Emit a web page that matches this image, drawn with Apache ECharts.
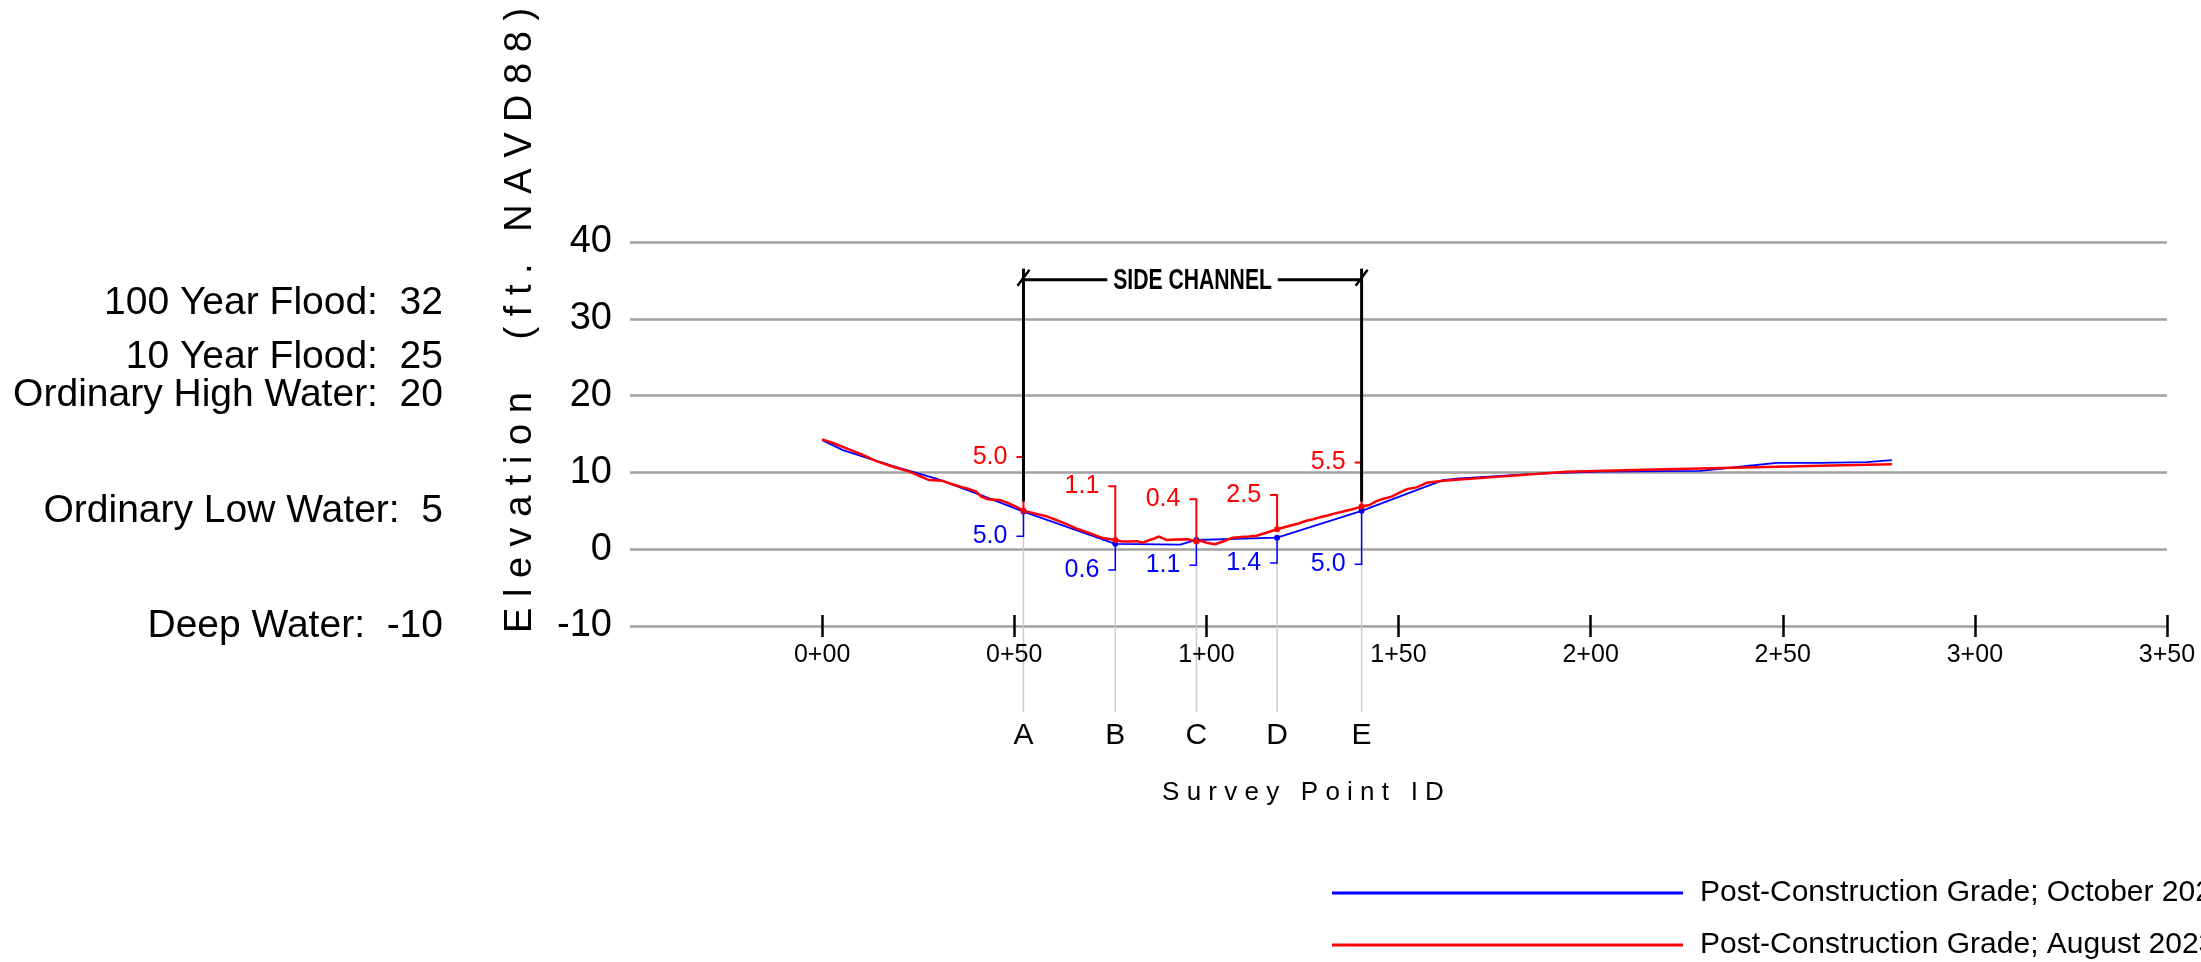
<!DOCTYPE html>
<html>
<head>
<meta charset="utf-8">
<script src="https://cdn.jsdelivr.net/npm/echarts@6/dist/echarts.min.js"></script>
<style>
html, body { margin: 0; padding: 0; background: #ffffff; }
#chart { width: 2201px; height: 962px; }
</style>
</head>
<body>
<div id="chart"></div>
<script>
// ---------------- data ----------------
const octoberName = 'Post-Construction Grade; October 2022';
const augustName = 'Post-Construction Grade; August 2023';

const octoberStation   = [0, 5.4, 14.1, 20, 29.7, 41, 52.4, 76.3, 93.2, 97.4, 118.4, 140.4, 161.6, 165.1, 185, 202.4, 228.5, 240, 248.4, 259.7, 271.9, 278.4];
const octoberElevation = [14.2, 12.9, 11.5, 10.6, 9.2, 7.1, 4.9, 0.7, 0.6, 1.2, 1.5, 5.0, 9.0, 9.2, 9.8, 10.1, 10.2, 10.8, 11.25, 11.25, 11.35, 11.6];

const augustStation   = [0, 3, 7, 10, 14, 18, 22.7, 25, 27.9, 31.4, 33, 35, 36.6, 38.5, 40.1, 41.4, 43.1, 46.2, 48, 49.6, 51, 52.4, 55, 58.3, 60.9, 63.5, 66.1, 69.6, 73.1, 76.3, 78, 80, 82, 83.5, 85.2, 86.5, 87.7, 89.6, 92, 95.2, 97.4, 98.5, 100, 102.2, 104.3, 106.9, 109, 111, 113, 115.6, 118.4, 121.7, 124, 126, 127.8, 129.5, 131.3, 133, 135.6, 138, 140.4, 142.5, 144, 145.6, 148.2, 150, 152.1, 154.7, 157.3, 161.6, 176.4, 193.8, 211.1, 237.1, 259.7, 278.4];
const augustElevation = [14.3, 13.8, 13.0, 12.4, 11.5, 10.8, 10.1, 9.6, 9.0, 8.9, 8.6, 8.3, 8.05, 7.8, 7.5, 6.85, 6.5, 6.4, 6.1, 5.75, 5.4, 5.0, 4.7, 4.3, 3.8, 3.3, 2.7, 2.1, 1.45, 1.2, 1.0, 1.0, 1.05, 0.85, 1.2, 1.4, 1.65, 1.2, 1.25, 1.3, 1.0, 1.1, 0.85, 0.65, 1.0, 1.5, 1.6, 1.65, 1.75, 2.15, 2.6, 3.05, 3.35, 3.7, 3.9, 4.15, 4.35, 4.6, 4.9, 5.2, 5.55, 5.75, 6.2, 6.5, 6.85, 7.3, 7.8, 8.05, 8.65, 8.9, 9.45, 10.1, 10.3, 10.6, 10.85, 11.05];

const surveyIds = ['A', 'B', 'C', 'D', 'E'];
const surveyStation = [52.4, 76.3, 97.4, 118.4, 140.4];
const augustAtSurvey = [5.0, 1.2, 1.0, 2.6, 5.55];
const octoberAtSurvey = [4.9, 0.7, 1.2, 1.5, 5.0];
const augustSurveyLabels = ['5.0', '1.1', '0.4', '2.5', '5.5'];
const octoberSurveyLabels = ['5.0', '0.6', '1.1', '1.4', '5.0'];
const augustLeaderElevation = [12.0, 8.2, 6.5, 7.05, 11.3];
const octoberLeaderElevation = [1.7, -2.7, -2.1, -1.8, -1.95];

const sideChannelLabel = 'SIDE CHANNEL';
const sideChannelStart = 52.4;
const sideChannelEnd = 140.4;
const sideChannelElevation = 35.1;
const sideChannelBaseElevation = 6.2;

const waterLevelNames = ['100 Year Flood', '10 Year Flood', 'Ordinary High Water', 'Ordinary Low Water', 'Deep Water'];
const waterLevelValues = [32, 25, 20, 5, -10];

const stationTicks = [0, 50, 100, 150, 200, 250, 300, 350];
const elevationTicks = [-10, 0, 10, 20, 30, 40];

const yTitle = 'E l e v a t i o n     ( f t .   N A V D 8 8 )';
const xTitle = 'S u r v e y   P o i n t   I D';

// ---------------- chart ----------------
const FONT = '"Liberation Sans", Arial, Helvetica, sans-serif';
const RED = '#ff0000';
const BLUE = '#0000ff';
const Y_MIN = elevationTicks[0], Y_MAX = elevationTicks[elevationTicks.length - 1];

function stationLabel(v) {
  const h = Math.floor(v / 100);
  const r = v - h * 100;
  return h + '+' + (r < 10 ? '0' + r : r);
}

function leaderRenderer(color, labels, lineWidth) {
  return function (params, api) {
    const p = api.coord([api.value(0), api.value(1)]);
    const t = api.coord([api.value(0), api.value(2)]);
    return {
      type: 'group',
      children: [
        { type: 'polyline', shape: { points: [[p[0], p[1]], [p[0], t[1]], [p[0] - 7, t[1]]] },
          style: { stroke: color, lineWidth: lineWidth, fill: null } },
        { type: 'text', x: p[0] - 16, y: t[1],
          style: { text: labels[params.dataIndex], fill: color, fontSize: 25, fontFamily: FONT, align: 'right', verticalAlign: 'middle' } },
        { type: 'circle', shape: { cx: p[0], cy: p[1], r: 3 }, style: { fill: color } }
      ]
    };
  };
}

function surveyRenderer(params, api) {
  const top = api.coord([api.value(0), api.value(1)]);
  const base = api.coord([api.value(0), Y_MIN]);
  return {
    type: 'group',
    children: [
      { type: 'line', shape: { x1: top[0], y1: top[1], x2: top[0], y2: base[1] + 86 },
        style: { stroke: '#cccccc', lineWidth: 1.5 } },
      { type: 'text', x: top[0], y: base[1] + 110,
        style: { text: surveyIds[params.dataIndex], fill: '#000', fontSize: 30, fontFamily: FONT, align: 'center', verticalAlign: 'middle' } }
    ]
  };
}

function sideChannelRenderer(params, api) {
  const a = api.coord([api.value(0), api.value(2)]);
  const e = api.coord([api.value(1), api.value(2)]);
  const aBase = api.coord([api.value(0), api.value(3)]);
  const eBase = api.coord([api.value(1), api.value(3)]);
  const st = { stroke: '#000', lineWidth: 3 };
  return {
    type: 'group',
    children: [
      { type: 'line', shape: { x1: a[0], y1: a[1] - 11, x2: aBase[0], y2: aBase[1] }, style: st },
      { type: 'line', shape: { x1: e[0], y1: e[1] - 11, x2: eBase[0], y2: eBase[1] }, style: st },
      { type: 'line', shape: { x1: a[0], y1: a[1], x2: e[0], y2: e[1] }, style: st },
      { type: 'line', shape: { x1: a[0] - 6, y1: a[1] + 6, x2: a[0] + 6, y2: a[1] - 10 }, style: { stroke: '#000', lineWidth: 2.5 } },
      { type: 'line', shape: { x1: e[0] - 6, y1: e[1] + 6, x2: e[0] + 6, y2: e[1] - 10 }, style: { stroke: '#000', lineWidth: 2.5 } },
      { type: 'text', x: (a[0] + e[0]) / 2, y: a[1] + 1, scaleX: 0.73,
        style: { text: sideChannelLabel, fill: '#000', fontSize: 29, fontWeight: 'bold',
                 fontFamily: FONT,
                 align: 'center', verticalAlign: 'middle', backgroundColor: '#ffffff', padding: [2, 8, 2, 8] } }
    ]
  };
}

const chart = echarts.init(document.getElementById('chart'), null, { renderer: 'canvas' });

const option = {
  backgroundColor: '#ffffff',
  animation: false,
  textStyle: { fontFamily: FONT },
  grid: [
    { left: 630, right: 34, top: 242, bottom: 336 },
    { left: 0, width: 443, top: 242, bottom: 336 }
  ],
  xAxis: [
    {
      type: 'value', gridIndex: 0, min: -50, max: 350, z: 5, position: 'bottom',
      axisLine: { show: false, onZero: false },
      splitLine: { show: false },
      axisTick: { show: true, customValues: stationTicks, length: 11, lineStyle: { color: '#000', width: 2.5 } },
      axisLabel: { show: true, customValues: stationTicks, formatter: stationLabel, fontSize: 25, color: '#000', margin: 17, fontFamily: FONT }
    },
    {
      type: 'value', gridIndex: 0, min: -50, max: 350, z: 5, position: 'bottom', offset: 0,
      axisLine: { show: false, onZero: false },
      splitLine: { show: false },
      axisTick: { show: true, inside: true, customValues: stationTicks, length: 11, lineStyle: { color: '#000', width: 2.5 } },
      axisLabel: { show: false }
    },
    { type: 'value', gridIndex: 1, min: 0, max: 1, show: false }
  ],
  yAxis: [
    {
      type: 'value', gridIndex: 0, min: Y_MIN, max: Y_MAX, interval: 10,
      axisLine: { show: false },
      axisTick: { show: false },
      splitLine: { show: true, lineStyle: { color: '#a0a0a0', width: 2.5 } },
      axisLabel: { fontSize: 38, color: '#000', margin: 18, fontFamily: FONT }
    },
    { type: 'value', gridIndex: 1, min: Y_MIN, max: Y_MAX, show: false }
  ],
  legend: {
    data: [octoberName, augustName],
    orient: 'vertical',
    left: 1332,
    top: 878,
    itemWidth: 351,
    itemHeight: 3,
    icon: 'rect',
    itemGap: 22,
    padding: 0,
    textStyle: { fontSize: 30, color: '#000', fontFamily: FONT, padding: [0, 0, 0, 12] }
  },
  graphic: [
    { type: 'text', x: 521, y: 633, rotation: Math.PI / 2,
      style: { text: yTitle, fill: '#000', fontSize: 38, fontFamily: FONT, align: 'left', verticalAlign: 'middle' } },
    { type: 'text', x: 1303, y: 793,
      style: { text: xTitle, fill: '#000', fontSize: 26, fontFamily: FONT, align: 'center', verticalAlign: 'middle' } }
  ],
  series: [
    {
      name: 'survey points', type: 'custom', xAxisIndex: 0, yAxisIndex: 0, z: 1, silent: true,
      renderItem: surveyRenderer,
      data: surveyStation.map((s, i) => [s, octoberAtSurvey[i]])
    },
    {
      name: octoberName, type: 'line', xAxisIndex: 0, yAxisIndex: 0, z: 3,
      color: BLUE, showSymbol: false, symbol: 'none',
      lineStyle: { color: BLUE, width: 1.8 },
      data: octoberStation.map((s, i) => [s, octoberElevation[i]])
    },
    {
      name: augustName, type: 'line', xAxisIndex: 0, yAxisIndex: 0, z: 4,
      color: RED, showSymbol: false, symbol: 'none',
      lineStyle: { color: RED, width: 2.5 },
      data: augustStation.map((s, i) => [s, augustElevation[i]])
    },
    {
      name: 'october labels', type: 'custom', xAxisIndex: 0, yAxisIndex: 0, z: 5, silent: true,
      renderItem: leaderRenderer(BLUE, octoberSurveyLabels, 1.5),
      data: surveyStation.map((s, i) => [s, octoberAtSurvey[i], octoberLeaderElevation[i]])
    },
    {
      name: 'august labels', type: 'custom', xAxisIndex: 0, yAxisIndex: 0, z: 6, silent: true,
      renderItem: leaderRenderer(RED, augustSurveyLabels, 2),
      data: surveyStation.map((s, i) => [s, augustAtSurvey[i], augustLeaderElevation[i]])
    },
    {
      name: 'side channel', type: 'custom', xAxisIndex: 0, yAxisIndex: 0, z: 7, silent: true,
      renderItem: sideChannelRenderer,
      data: [[sideChannelStart, sideChannelEnd, sideChannelElevation, sideChannelBaseElevation]]
    },
    {
      name: 'water levels', type: 'scatter', xAxisIndex: 2, yAxisIndex: 1, silent: true,
      symbolSize: 0,
      itemStyle: { opacity: 1 },
      label: {
        show: true, position: 'left', distance: 0, color: '#000000', opacity: 1, fontSize: 39, fontFamily: FONT,
        formatter: p => p.name + ':  ' + p.value[1]
      },
      data: waterLevelValues.map((v, i) => ({ name: waterLevelNames[i], value: [1, v] }))
    }
  ]
};

chart.setOption(option);
</script>
</body>
</html>
